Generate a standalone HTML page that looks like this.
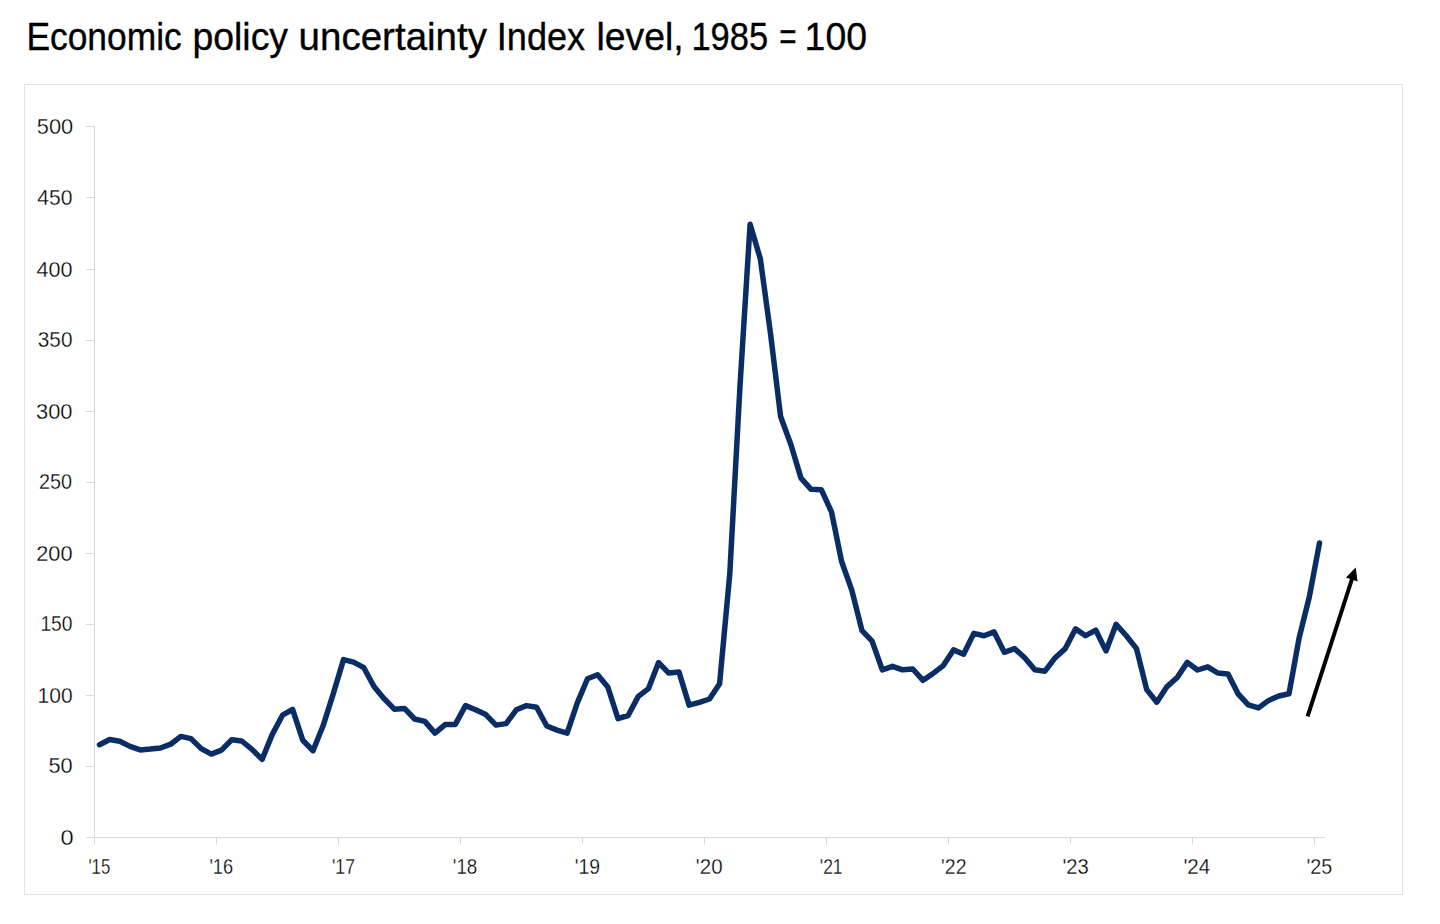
<!DOCTYPE html>
<html><head><meta charset="utf-8">
<style>
html,body{margin:0;padding:0;background:#fff;}
body{width:1440px;height:924px;overflow:hidden;position:relative;font-family:"Liberation Sans",sans-serif;}
svg{position:absolute;left:0;top:0;}
.title{font-size:39px;fill:#000;stroke:#000;stroke-width:0.35px;font-family:"Liberation Sans",sans-serif;}
.lb{font-size:22.5px;fill:#000;stroke:#fff;stroke-width:0.3px;font-family:"Liberation Sans",sans-serif;}
</style></head><body>
<svg width="1440" height="924" viewBox="0 0 1440 924">
<rect x="24.5" y="84.5" width="1378" height="810" fill="none" stroke="#e3e3e3" stroke-width="1"/>
<line x1="94.5" y1="126" x2="94.5" y2="844.5" stroke="#d9d9d9" stroke-width="1"/>
<line x1="86" y1="837.5" x2="94.5" y2="837.5" stroke="#d9d9d9" stroke-width="1"/>
<line x1="86" y1="766.5" x2="94.5" y2="766.5" stroke="#d9d9d9" stroke-width="1"/>
<line x1="86" y1="695.5" x2="94.5" y2="695.5" stroke="#d9d9d9" stroke-width="1"/>
<line x1="86" y1="624.5" x2="94.5" y2="624.5" stroke="#d9d9d9" stroke-width="1"/>
<line x1="86" y1="553.5" x2="94.5" y2="553.5" stroke="#d9d9d9" stroke-width="1"/>
<line x1="86" y1="482.5" x2="94.5" y2="482.5" stroke="#d9d9d9" stroke-width="1"/>
<line x1="86" y1="411.5" x2="94.5" y2="411.5" stroke="#d9d9d9" stroke-width="1"/>
<line x1="86" y1="340.5" x2="94.5" y2="340.5" stroke="#d9d9d9" stroke-width="1"/>
<line x1="86" y1="269.5" x2="94.5" y2="269.5" stroke="#d9d9d9" stroke-width="1"/>
<line x1="86" y1="197.5" x2="94.5" y2="197.5" stroke="#d9d9d9" stroke-width="1"/>
<line x1="86" y1="126.5" x2="94.5" y2="126.5" stroke="#d9d9d9" stroke-width="1"/>
<line x1="86" y1="837.5" x2="1325" y2="837.5" stroke="#d9d9d9" stroke-width="1"/>
<line x1="94.5" y1="837.5" x2="94.5" y2="844.5" stroke="#d9d9d9" stroke-width="1"/>
<line x1="216.5" y1="837.5" x2="216.5" y2="844.5" stroke="#d9d9d9" stroke-width="1"/>
<line x1="338.5" y1="837.5" x2="338.5" y2="844.5" stroke="#d9d9d9" stroke-width="1"/>
<line x1="460.5" y1="837.5" x2="460.5" y2="844.5" stroke="#d9d9d9" stroke-width="1"/>
<line x1="582.5" y1="837.5" x2="582.5" y2="844.5" stroke="#d9d9d9" stroke-width="1"/>
<line x1="704.5" y1="837.5" x2="704.5" y2="844.5" stroke="#d9d9d9" stroke-width="1"/>
<line x1="826.5" y1="837.5" x2="826.5" y2="844.5" stroke="#d9d9d9" stroke-width="1"/>
<line x1="948.5" y1="837.5" x2="948.5" y2="844.5" stroke="#d9d9d9" stroke-width="1"/>
<line x1="1070.5" y1="837.5" x2="1070.5" y2="844.5" stroke="#d9d9d9" stroke-width="1"/>
<line x1="1192.5" y1="837.5" x2="1192.5" y2="844.5" stroke="#d9d9d9" stroke-width="1"/>
<line x1="1314.5" y1="837.5" x2="1314.5" y2="844.5" stroke="#d9d9d9" stroke-width="1"/>
<text x="36.8" y="134.0" class="lb" textLength="36.38" lengthAdjust="spacingAndGlyphs">500</text>
<text x="37.2" y="205.33" class="lb" textLength="35.25" lengthAdjust="spacingAndGlyphs">450</text>
<text x="36.4" y="276.71" class="lb" textLength="36.06" lengthAdjust="spacingAndGlyphs">400</text>
<text x="37.8" y="347.34" class="lb" textLength="34.7" lengthAdjust="spacingAndGlyphs">350</text>
<text x="36.0" y="418.72" class="lb" textLength="36.49" lengthAdjust="spacingAndGlyphs">300</text>
<text x="39.0" y="489.4" class="lb" textLength="33.08" lengthAdjust="spacingAndGlyphs">250</text>
<text x="36.2" y="560.73" class="lb" textLength="36.34" lengthAdjust="spacingAndGlyphs">200</text>
<text x="40.4" y="631.41" class="lb" textLength="32.15" lengthAdjust="spacingAndGlyphs">150</text>
<text x="37.6" y="702.74" class="lb" textLength="35.02" lengthAdjust="spacingAndGlyphs">100</text>
<text x="48.4" y="773.42" class="lb" textLength="24.2" lengthAdjust="spacingAndGlyphs">50</text>
<text x="60.4" y="844.76" class="lb" textLength="13.11" lengthAdjust="spacingAndGlyphs">0</text>
<text x="88.4" y="874.0" class="lb" textLength="21.85" lengthAdjust="spacingAndGlyphs">&#39;15</text>
<text x="209.4" y="874.0" class="lb" textLength="23.75" lengthAdjust="spacingAndGlyphs">&#39;16</text>
<text x="332.0" y="874.0" class="lb" textLength="22.91" lengthAdjust="spacingAndGlyphs">&#39;17</text>
<text x="452.8" y="874.0" class="lb" textLength="24.53" lengthAdjust="spacingAndGlyphs">&#39;18</text>
<text x="574.8" y="874.0" class="lb" textLength="25.24" lengthAdjust="spacingAndGlyphs">&#39;19</text>
<text x="695.8" y="874.0" class="lb" textLength="26.76" lengthAdjust="spacingAndGlyphs">&#39;20</text>
<text x="819.8" y="874.0" class="lb" textLength="22.8" lengthAdjust="spacingAndGlyphs">&#39;21</text>
<text x="941.0" y="874.0" class="lb" textLength="25.53" lengthAdjust="spacingAndGlyphs">&#39;22</text>
<text x="1062.4" y="874.0" class="lb" textLength="26.32" lengthAdjust="spacingAndGlyphs">&#39;23</text>
<text x="1183.4" y="874.0" class="lb" textLength="26.9" lengthAdjust="spacingAndGlyphs">&#39;24</text>
<text x="1306.6" y="874.0" class="lb" textLength="25.72" lengthAdjust="spacingAndGlyphs">&#39;25</text>
<text x="26.4" y="49.7" class="title" textLength="155.29" lengthAdjust="spacingAndGlyphs">Economic</text>
<text x="192.4" y="49.7" class="title" textLength="95.66" lengthAdjust="spacingAndGlyphs">policy</text>
<text x="298.6" y="49.7" class="title" textLength="188.42" lengthAdjust="spacingAndGlyphs">uncertainty</text>
<text x="496.8" y="49.7" class="title" textLength="88.32" lengthAdjust="spacingAndGlyphs">Index</text>
<text x="596.4" y="49.7" class="title" textLength="87.32" lengthAdjust="spacingAndGlyphs">level,</text>
<text x="691.4" y="49.7" class="title" textLength="76.74" lengthAdjust="spacingAndGlyphs">1985</text>
<text x="779.2" y="49.7" class="title" textLength="17.31" lengthAdjust="spacingAndGlyphs">=</text>
<text x="804.6" y="49.7" class="title" textLength="62.44" lengthAdjust="spacingAndGlyphs">100</text>
<polyline points="99.5,744.7 109.7,739.5 119.8,741.3 130.0,746.4 140.2,749.9 150.3,749.1 160.5,748.0 170.7,744.2 180.8,736.4 191.0,738.6 201.2,748.6 211.3,754.1 221.5,750.1 231.7,739.8 241.8,741.0 252.0,749.4 262.1,759.4 272.3,734.4 282.5,715.2 292.6,709.3 302.8,740.3 313.0,750.7 323.1,725.8 333.3,693.7 343.5,659.6 353.6,662.1 363.8,667.7 374.0,686.5 384.1,698.7 394.3,709.2 404.5,708.4 414.6,719.0 424.8,721.4 435.0,733.1 445.1,724.6 455.3,724.4 465.5,705.6 475.6,709.8 485.8,714.6 496.0,725.1 506.1,723.6 516.3,709.8 526.5,705.6 536.6,707.2 546.8,726.0 557.0,730.1 567.1,733.2 577.3,702.9 587.5,678.8 597.6,674.8 607.8,687.0 618.0,718.6 628.1,715.5 638.3,696.4 648.5,688.6 658.6,662.6 668.8,673.1 679.0,672.1 689.1,705.1 699.3,702.4 709.5,699.0 719.6,683.8 729.8,573.6 740.0,385.9 750.1,224.2 760.3,258.7 770.5,333.3 780.6,416.5 790.8,444.2 801.0,478.1 811.1,489.3 821.3,489.7 831.5,511.9 841.6,561.5 851.8,590.1 862.0,630.7 872.1,641.1 882.3,669.8 892.5,666.3 902.6,669.8 912.8,669.0 923.0,680.3 933.1,673.4 943.3,665.6 953.5,649.9 963.6,654.2 973.8,633.4 984.0,635.7 994.1,631.9 1004.3,652.3 1014.5,648.6 1024.7,657.7 1034.8,669.8 1045.0,671.2 1055.2,657.7 1065.3,648.6 1075.5,628.9 1085.6,635.7 1095.8,630.2 1106.0,650.9 1116.1,624.3 1126.3,635.8 1136.5,648.6 1146.7,689.6 1156.8,702.2 1167.0,686.6 1177.2,677.5 1187.3,662.4 1197.5,670.0 1207.7,666.8 1217.8,673.0 1228.0,673.9 1238.2,694.0 1248.3,704.8 1258.5,707.9 1268.7,700.4 1278.8,696.0 1289.0,693.8 1299.2,637.6 1309.3,597.0 1319.5,543.0" fill="none" stroke="#0b2d65" stroke-width="5.5" stroke-linejoin="round" stroke-linecap="round"/>
<line x1="1307.6" y1="716.3" x2="1352" y2="579" stroke="#000" stroke-width="4"/>
<polygon points="1355.7,567.5 1357.6,581.4 1346,577.6" fill="#000"/>
</svg>
</body></html>
